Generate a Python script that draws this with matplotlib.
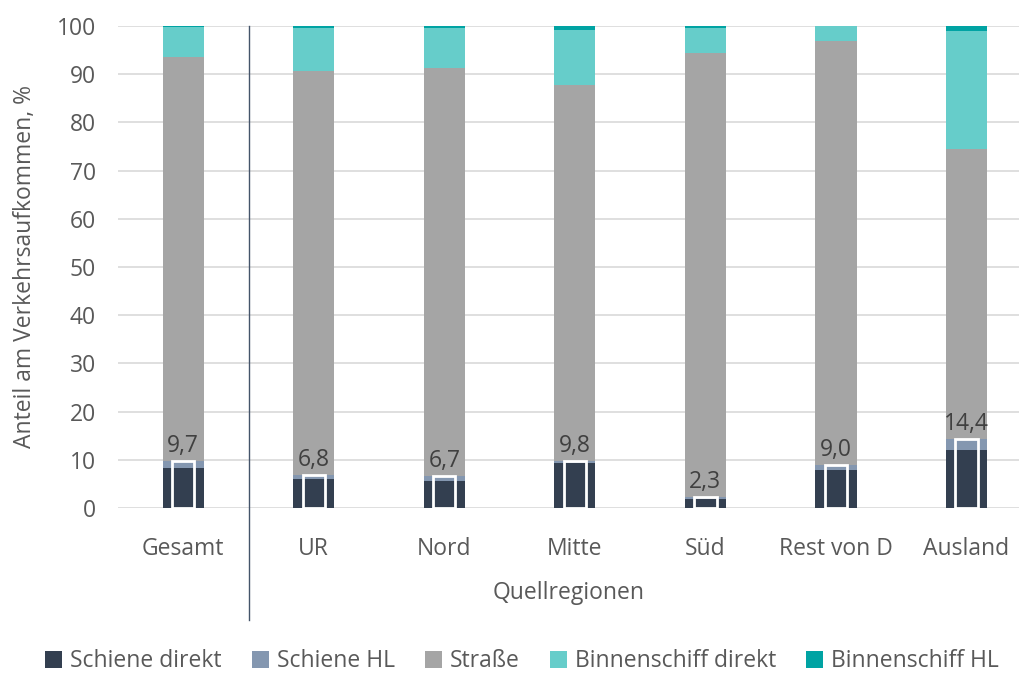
import numpy as np
import matplotlib.pyplot as plt

plt.rcParams['font.family'] = ['Open Sans', 'DejaVu Sans']

regions = ['Gesamt', 'UR', 'Nord', 'Mitte', 'Süd', 'Rest von D', 'Ausland']
schiene_direkt = [8.4, 6.0, 5.7, 9.3, 1.8, 7.9, 12.0]
schiene_hl = [1.3, 0.8, 1.0, 0.5, 0.5, 1.1, 2.4]
strasse = [83.9, 83.9, 84.6, 78.0, 92.1, 87.9, 60.0]
binnen_direkt = [6.1, 8.9, 8.3, 11.4, 5.1, 3.0, 24.6]
binnen_hl = [0.3, 0.4, 0.4, 0.8, 0.5, 0.1, 1.0]
schiene_gesamt = [9.7, 6.8, 6.7, 9.8, 2.3, 9.0, 14.4]
labels = ['9,7', '6,8', '6,7', '9,8', '2,3', '9,0', '14,4']

series = [
    ('Schiene direkt', schiene_direkt, '#333F50'),
    ('Schiene HL', schiene_hl, '#8497B0'),
    ('Straße', strasse, '#A5A5A5'),
    ('Binnenschiff direkt', binnen_direkt, '#66CDCA'),
    ('Binnenschiff HL', binnen_hl, '#00A3A3'),
]

fs = 16.5

fig = plt.figure(figsize=(10.2, 6.75), dpi=100)
ax = fig.add_axes([118 / 1020, 1 - 508 / 675, 902 / 1020, 482 / 675])

x = np.arange(len(regions))
bottom = np.zeros(len(regions))
for name, vals, col in series:
    ax.bar(x, vals, width=0.315, bottom=bottom, color=col, label=name, zorder=3)
    bottom += np.array(vals)

# rail total (outlined inner bar)
ax.bar(x, schiene_gesamt, width=0.17, facecolor='none', edgecolor='white',
       linewidth=2, zorder=4)
for xi, v, t in zip(x, schiene_gesamt, labels):
    ax.text(xi, v + 0.6, t, ha='center', va='bottom', fontsize=fs,
            color='#404040', zorder=5)

ax.set_xlim(-0.5, 6.41)
ax.set_ylim(0, 100)
ax.set_yticks(range(0, 101, 10))
ax.set_xticks(x)
ax.set_xticklabels(regions)
ax.grid(axis='y', color='#D9D9D9', linewidth=1.2, zorder=0)
for s in ax.spines.values():
    s.set_visible(False)
ax.tick_params(length=0, labelsize=fs, labelcolor='#595959')
ax.tick_params(axis='x', pad=21)
ax.tick_params(axis='y', pad=16)

ax.set_ylabel('Anteil am Verkehrsaufkommen, %', fontsize=fs, color='#595959',
              labelpad=14)
ax.set_xlabel('Quellregionen', fontsize=fs, color='#595959', labelpad=14)

# separator between Gesamt and regions
ax.plot([0.5, 0.5], [100, -23.2], color='#44546A', linewidth=1,
        clip_on=False, zorder=5)

ax.legend(loc='center', bbox_to_anchor=((522 - 118) / 902, -0.318),
          ncol=5, frameon=False, fontsize=fs, handlelength=0.75,
          handleheight=0.75, handletextpad=0.35, columnspacing=1.3,
          labelcolor='#595959')

fig.savefig('out.png', dpi=100)
